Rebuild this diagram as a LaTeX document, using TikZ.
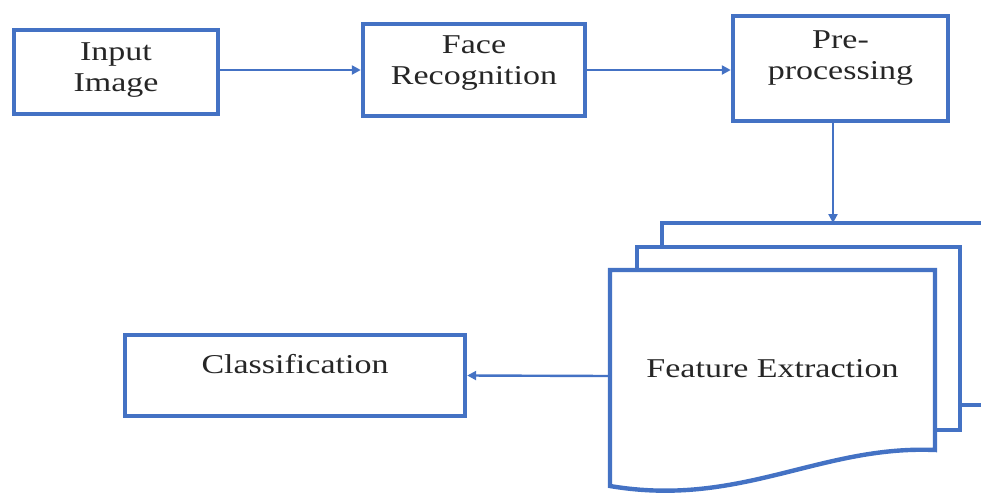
\documentclass[tikz,border=0pt]{standalone}
\usepackage{fontspec}
\setmainfont{Liberation Serif}[FakeStretch=1.25]
\usepackage{tikz}
\usetikzlibrary{arrows.meta}
\definecolor{boxblue}{HTML}{4472C4}
\definecolor{txtgrey}{HTML}{262626}
\tikzset{
  stagebox/.style={draw=boxblue, line width=2.2pt, fill=white, align=center, inner sep=2pt, text=txtgrey, font=\fontsize{13.6}{15.5}\selectfont},
  pagetext/.style={inner sep=0pt, text=txtgrey, font=\fontsize{13.6}{15.5}\selectfont},
  pagestack/.style={draw=boxblue, line width=2.2pt, fill=white},
  flowarrow/.style={draw=boxblue, line width=1.2pt, -{Triangle[length=4.5pt, width=4.5pt]}}
}
\newcommand{\stagenode}[4] {\node at (#1) (#2) [stagebox, #3] {#4};}
\newcommand{\stagearrow}[2] {\draw [flowarrow] (#1) -- (#2);}

\begin{document}
\begin{tikzpicture}[x=0.5pt, y=-0.5pt]
\useasboundingbox (0,0) rectangle (981,494);
\clip (0,0) rectangle (981,494);

\stagenode {116,72} {inp} {minimum width=102pt, minimum height=42pt, text depth=5pt} {Input\\Image};
\stagenode {474,70} {face} {minimum width=111pt, minimum height=46pt, text depth=10pt} {Face\\Recognition};
\stagenode {840.5,68.5} {pre} {minimum width=107.5pt, minimum height=52.5pt, text depth=13pt} {Pre-\\processing};
\stagenode {295,375.5} {cls} {minimum width=170pt, minimum height=40.5pt, text depth=12pt} {Classification};

% stacked pages
\draw [pagestack] (662,223) rectangle (1000,405);
\draw [pagestack] (637,247) rectangle (960,430);
\draw [pagestack] (610,270) -- (935,270) -- (935,450) .. controls (820,445) and (740,508) .. (610,486) -- cycle;
\node at (772.5,376) (fe) [pagetext, minimum width=162.5pt, text depth=8pt] {Feature Extraction};
\coordinate (stacktop) at (833,223);

\stagearrow {face.west -| inp.east}{face.west};
\stagearrow {face.east}{face.east -| pre.west};
\stagearrow {pre.south -| stacktop}{stacktop};
\stagearrow {fe.west}{cls.east};
\end{tikzpicture}
\end{document}
